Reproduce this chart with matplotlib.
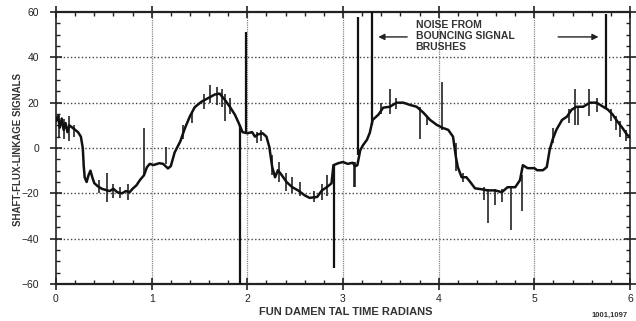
import matplotlib
matplotlib.use("Agg")
from matplotlib import pyplot as plt
from matplotlib.ticker import MultipleLocator

# traced waveform (radians, signal)
trace_x = [0.00, 0.02, 0.04, 0.06, 0.08, 0.10, 0.12, 0.14, 0.17, 0.20,
           0.23, 0.26, 0.28, 0.29, 0.30, 0.32, 0.34, 0.36, 0.38, 0.40,
           0.44, 0.48, 0.52, 0.56, 0.60, 0.64, 0.69, 0.73, 0.77, 0.80,
           0.84, 0.88, 0.92, 0.95, 0.98, 1.02, 1.08, 1.12, 1.17, 1.20,
           1.24, 1.30, 1.35, 1.40, 1.45, 1.52, 1.59, 1.66, 1.71, 1.77,
           1.82, 1.87, 1.91, 1.95, 2.00, 2.05, 2.08, 2.11, 2.16, 2.20,
           2.23, 2.26, 2.29, 2.32, 2.36, 2.41, 2.47, 2.53, 2.60, 2.65,
           2.73, 2.78, 2.83, 2.88, 2.90, 2.95, 3.00, 3.05, 3.10, 3.13,
           3.15, 3.18, 3.21, 3.25, 3.28, 3.31, 3.37, 3.42, 3.49, 3.56,
           3.63, 3.70, 3.77, 3.84, 3.91, 3.98, 4.04, 4.10, 4.15, 4.18,
           4.20, 4.24, 4.29, 4.33, 4.38, 4.45, 4.51, 4.59, 4.66, 4.72,
           4.80, 4.85, 4.88, 4.93, 5.00, 5.03, 5.09, 5.13, 5.16, 5.19,
           5.23, 5.29, 5.34, 5.39, 5.44, 5.51, 5.58, 5.65, 5.72, 5.77,
           5.82, 5.87, 5.92, 5.97, 6.00]
trace_y = [12, 14, 9, 13, 8, 11, 7, 10, 9, 8,
           7, 5, 0, -8, -13, -15, -12, -10, -13, -15.5,
           -17, -18, -18.5, -19, -18, -19.5, -20, -19, -19.5, -18,
           -16.5, -14, -12, -8.5, -7, -7.5, -6.7, -7, -9, -8,
           -2, 3, 9, 14, 18, 20.4, 22, 23.6, 24, 21,
           18, 14.7, 11, 7, 6.5, 7, 5, 6, 6.5, 5,
           0.4, -8.4, -12.9, -9.8, -12, -15, -17.3, -18.7, -20.9, -22,
           -21.6, -18.7, -17.3, -15.6, -7.6, -6.7, -6.2, -7, -6.5, -8,
           -7.6, -1, 1.3, 3.6, 6.7, 12.4, 14.7, 17.8, 18.2, 20,
           20, 19, 18.2, 15.6, 12.4, 10.2, 8.9, 8, 5, -4,
           -8.4, -12.9, -12.9, -15, -17.8, -18.2, -18.7, -18.7, -19.5, -17.3,
           -17.3, -14.2, -7.6, -8.9, -8.9, -9.8, -9.8, -8.4, -0.9, 3.6,
           8, 12.4, 13.8, 16.9, 18.2, 18.2, 20, 20, 18.2, 16.9,
           14.7, 11.6, 8.9, 5.8, 5]

# small noise spikes on the trace
noise_x = [0.03, 0.08, 0.14, 0.19, 0.45, 0.53, 0.60, 0.67, 0.75, 0.92,
           1.15, 1.33, 1.42, 1.55, 1.61, 1.68, 1.74, 1.77, 1.82, 2.10,
           2.14, 2.26, 2.33, 2.40, 2.47, 2.55, 2.70, 2.78, 2.83, 3.11,
           3.13, 3.40, 3.49, 3.55, 3.80, 3.88, 4.04, 4.18, 4.25, 4.47,
           4.52, 4.59, 4.66, 4.76, 4.87, 5.20, 5.36, 5.42, 5.46, 5.57,
           5.66, 5.80, 5.85, 5.90, 5.96]
noise_lo = [5, 4, 3, 5, -20, -24, -22, -22, -23, -12,
            -7, 4, 11, 17, 20, 19, 18, 12, 15, 2,
            3, -12, -15, -19, -20, -21, -24, -23, -21, -17,
            -17, 15, 15, 17, 4, 10, 8, -10, -15, -23,
            -33, -25, -24, -36, -28, 2, 11, 10, 10, 14,
            16, 12, 8, 5, 3]
noise_hi = [15, 13, 14, 10, -14, -11, -16, -17, -16, 9,
            0.4, 10, 16, 24, 28, 27, 26, 24, 22, 7,
            8, -3, -6, -11, -13, -15, -19, -16, -12, -6,
            -6, 20, 26, 22, 18, 14, 29, 2, -11, -17,
            -18, -18, -18, -17, -12, 9, 17, 26, 18, 26,
            22, 17, 14, 12, 8]

# large brush-bounce spikes
spike_x = [1.92, 1.99, 2.91, 3.16, 3.30, 5.75]
spike_lo = [-60, 7, -53, -3, 10, 17]
spike_hi = [10, 51, -7, 58, 60, 59]

FONT = ['Liberation Sans Narrow', 'Liberation Sans', 'DejaVu Sans']
plt.rcParams['font.family'] = FONT

fig = plt.figure(figsize=(6.36, 3.21), dpi=100)
ax = fig.add_axes([56 / 636, 37 / 321, 574 / 636, 272 / 321])

for yv in [-40, -20, 0, 20, 40]:
    ax.axhline(yv, color='#444444', lw=1.0, ls=(0, (1, 1.6)), zorder=1)
for xv in [1, 2, 3, 4, 5]:
    ax.axvline(xv, color='#888888', lw=0.9, ls=(0, (1, 0.8)), zorder=1)

ax.plot(trace_x, trace_y, color='#111111', lw=1.8, zorder=3)
ax.vlines(noise_x, noise_lo, noise_hi, color='#111111', lw=1.1, zorder=3)
ax.vlines(spike_x, spike_lo, spike_hi, color='#111111', lw=1.6, zorder=3)

ax.set_xlim(0, 6)
ax.set_ylim(-60, 60)
ax.xaxis.set_major_locator(MultipleLocator(1))
ax.xaxis.set_minor_locator(MultipleLocator(0.2))
ax.yaxis.set_major_locator(MultipleLocator(20))
ax.yaxis.set_minor_locator(MultipleLocator(5))
ax.tick_params(which='major', direction='inout', length=8, width=1.2,
               top=True, right=True, labelsize=7.5, colors='#222222')
ax.tick_params(which='minor', direction='in', length=3, width=1.0,
               top=True, right=True, colors='#222222')
ax.tick_params(axis='y', pad=8)
ax.tick_params(axis='x', pad=3)
for side in ['top', 'bottom']:
    ax.spines[side].set_linewidth(1.6)
for side in ['left', 'right']:
    ax.spines[side].set_linewidth(1.2)
for sp in ax.spines.values():
    sp.set_color('#222222')

ax.text(3.76, 56.5, "NOISE FROM\nBOUNCING SIGNAL\nBRUSHES", fontsize=7.5,
        fontweight='bold', va='top', ha='left', linespacing=1.1,
        color='#333333')
ax.annotate("", xy=(3.34, 49), xytext=(3.70, 49),
            arrowprops=dict(arrowstyle='-|>', color='#222222', lw=1.0,
                            mutation_scale=9))
ax.annotate("", xy=(5.70, 49), xytext=(5.22, 49),
            arrowprops=dict(arrowstyle='-|>', color='#222222', lw=1.0,
                            mutation_scale=9))

fig.text(0.028, 0.533, "SHAFT-FLUX-LINKAGE SIGNALS", rotation=90,
         fontsize=7, fontweight='bold', ha='center', va='center',
         color='#333333')
fig.text(346 / 636, 1 - 312 / 321, "FUN DAMEN TAL TIME RADIANS",
         fontsize=8, fontweight='bold', ha='center', va='center',
         color='#333333')
fig.text(628 / 636, 1 - 315 / 321, "1001,1097", fontsize=5.5,
         fontweight='bold', ha='right', va='center', color='#333333')

fig.savefig("out.png", dpi=100)
